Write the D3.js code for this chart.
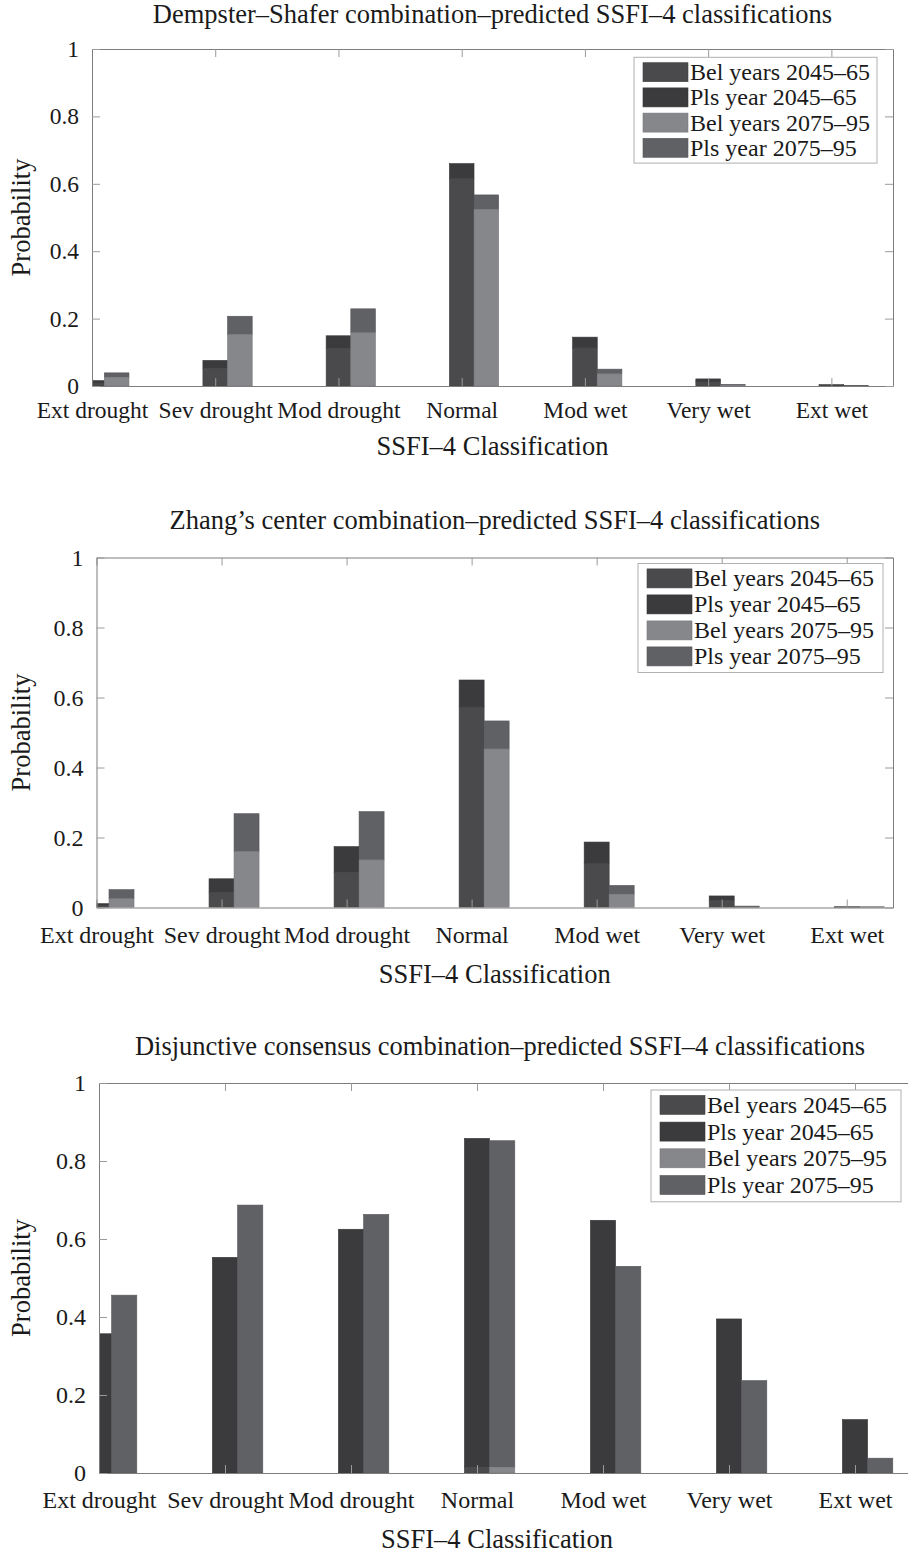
<!DOCTYPE html>
<html>
<head>
<meta charset="utf-8">
<script src="https://cdn.jsdelivr.net/npm/d3@7"></script>
<style>
  html, body { margin: 0; padding: 0; background: #fff; }
  svg { display: block; }
  text { font-family: "Liberation Serif", "Times New Roman", serif; fill: #1a1a1a; }
</style>
</head>
<body>
<svg id="fig" width="908" height="1558"></svg>
<script>
// Classification categories along the x axis
const categories = ["Ext drought", "Sev drought", "Mod drought", "Normal", "Mod wet", "Very wet", "Ext wet"];
const yTicks = [0, 0.2, 0.4, 0.6, 0.8, 1];
const seriesNames = ["Bel years 2045\u201365", "Pls year 2045\u201365", "Bel years 2075\u201395", "Pls year 2075\u201395"];
const seriesColors = ["#4a4a4d", "#3b3b3e", "#86878b", "#606165"];

// Dempster–Shafer combination
const dsBel2045 = [0.009, 0.052, 0.112, 0.615, 0.113, 0.012, 0.002];
const dsPls2045 = [0.016, 0.076, 0.149, 0.660, 0.145, 0.021, 0.004];
const dsBel2075 = [0.026, 0.153, 0.158, 0.524, 0.036, 0.002, 0.000];
const dsPls2075 = [0.039, 0.207, 0.229, 0.567, 0.050, 0.005, 0.001];

// Zhang's center combination
const zcBel2045 = [0.005, 0.043, 0.100, 0.573, 0.125, 0.020, 0.001];
const zcPls2045 = [0.011, 0.082, 0.174, 0.650, 0.187, 0.033, 0.002];
const zcBel2075 = [0.025, 0.160, 0.136, 0.453, 0.038, 0.001, 0.000];
const zcPls2075 = [0.051, 0.268, 0.274, 0.533, 0.063, 0.004, 0.002];

// Disjunctive consensus combination
const dcBel2045 = [0.000, 0.000, 0.000, 0.015, 0.000, 0.000, 0.000];
const dcPls2045 = [0.357, 0.553, 0.625, 0.858, 0.648, 0.395, 0.137];
const dcBel2075 = [0.000, 0.000, 0.000, 0.015, 0.000, 0.000, 0.000];
const dcPls2075 = [0.456, 0.687, 0.663, 0.852, 0.530, 0.237, 0.038];

const panels = [
  { title: "Dempster\u2013Shafer combination\u2013predicted SSFI\u20134 classifications",
    bel45: dsBel2045, pls45: dsPls2045, bel75: dsBel2075, pls75: dsPls2075,
    left: 92, right: 893, top: 49, bottom: 386, xMax: 7.5, titleY: 23,
    tickFont: 23.5, tickPad: 15, xlabelGap: 69,
    legend: { left: 634, top: 57.3, width: 243, pitch: 25.2 } },
  { title: "Zhang\u2019s center combination\u2013predicted SSFI\u20134 classifications",
    bel45: zcBel2045, pls45: zcPls2045, bel75: zcBel2075, pls75: zcPls2075,
    left: 96.5, right: 893, top: 557.5, bottom: 907.5, xMax: 7.37, titleY: 529,
    tickFont: 24, tickPad: 18, xlabelGap: 75,
    legend: { left: 638, top: 563.5, width: 245, pitch: 26 } },
  { title: "Disjunctive consensus combination\u2013predicted SSFI\u20134 classifications",
    bel45: dcBel2045, pls45: dcPls2045, bel75: dcBel2075, pls75: dcPls2075,
    left: 99, right: 918, top: 1083, bottom: 1473, xMax: 7.5, titleY: 1055,
    tickFont: 24, tickPad: 18, xlabelGap: 75,
    legend: { left: 651, top: 1090, width: 250, pitch: 26.7 } }
];

const svg = d3.select("#fig");
const barW = 0.2;          // bar width in category units
const offset75 = 0.2;      // 2075–95 bars sit just right of the 2045–65 bars
const labelFont = 26.5, titleFont = 26.5, legendFont = 24;

panels.forEach((p, pi) => {
  const x = d3.scaleLinear().domain([1, p.xMax]).range([p.left, p.right]);
  const y = d3.scaleLinear().domain([0, 1]).range([p.bottom, p.top]);
  const g = svg.append("g");
  const midX = Math.min((p.left + p.right) / 2, 500);

  const clipId = "clip" + pi;
  g.append("clipPath").attr("id", clipId)
    .append("rect").attr("x", p.left).attr("y", p.top)
    .attr("width", p.right - p.left).attr("height", p.bottom - p.top);

  // Stacked Bel / (Pls − Bel) bars for both periods
  const bars = g.append("g").attr("clip-path", `url(#${clipId})`);
  const groups = [
    { bel: p.bel45, pls: p.pls45, dx: 0, cBel: seriesColors[0], cPls: seriesColors[1] },
    { bel: p.bel75, pls: p.pls75, dx: offset75, cBel: seriesColors[2], cPls: seriesColors[3] }
  ];
  groups.forEach(gr => {
    categories.forEach((c, i) => {
      const xc = i + 1 + gr.dx;
      const x0 = x(xc - barW / 2), x1 = x(xc + barW / 2);
      // Pls segment stacked above Bel
      bars.append("rect")
        .attr("x", x0).attr("width", x1 - x0)
        .attr("y", y(gr.pls[i])).attr("height", y(gr.bel[i]) - y(gr.pls[i]))
        .attr("fill", gr.cPls).attr("stroke", d3.color(gr.cPls).darker(0.3)).attr("stroke-width", 0.6);
      bars.append("rect")
        .attr("x", x0).attr("width", x1 - x0)
        .attr("y", y(gr.bel[i])).attr("height", y(0) - y(gr.bel[i]))
        .attr("fill", gr.cBel).attr("stroke", d3.color(gr.cBel).darker(0.3)).attr("stroke-width", 0.6);
    });
  });

  // Axes box with inward ticks
  const tickLen = 8;
  const xTickVals = categories.map((c, i) => i + 1);
  const axisColor = "#7d7d7d";

  const bottomAxis = d3.axisBottom(x).tickValues(xTickVals)
    .tickFormat((d, i) => categories[i]).tickSizeInner(-tickLen).tickSizeOuter(0).tickPadding(p.tickPad);
  const gb = g.append("g").attr("transform", `translate(0,${p.bottom})`).call(bottomAxis);
  const topAxis = d3.axisTop(x).tickValues(xTickVals).tickFormat("").tickSizeInner(-tickLen).tickSizeOuter(0);
  const gt = g.append("g").attr("transform", `translate(0,${p.top})`).call(topAxis);
  const leftAxis = d3.axisLeft(y).tickValues(yTicks).tickFormat(d3.format("~g"))
    .tickSizeInner(-tickLen).tickSizeOuter(0).tickPadding(13);
  const gl = g.append("g").attr("transform", `translate(${p.left},0)`).call(leftAxis);
  const rightAxis = d3.axisRight(y).tickValues(yTicks).tickFormat("").tickSizeInner(-tickLen).tickSizeOuter(0);
  const gr2 = g.append("g").attr("transform", `translate(${p.right},0)`).call(rightAxis);

  [gb, gt, gl, gr2].forEach(a => {
    a.select(".domain").attr("stroke", axisColor);
    a.selectAll(".tick line").attr("stroke", "#9a9a9a");
    a.selectAll("text").attr("font-size", p.tickFont).attr("fill", "#1a1a1a")
      .style("font-family", "'Liberation Serif', serif");
  });
  gb.selectAll(".tick text").attr("dy", "0.71em");

  // Titles and axis labels
  g.append("text").attr("x", midX).attr("y", p.titleY)
    .attr("text-anchor", "middle").attr("font-size", titleFont).text(p.title);
  g.append("text").attr("x", Math.min(midX, 497)).attr("y", p.bottom + p.xlabelGap)
    .attr("text-anchor", "middle").attr("font-size", labelFont).text("SSFI\u20134 Classification");
  g.append("text")
    .attr("transform", `translate(30,${(p.top + p.bottom) / 2}) rotate(-90)`)
    .attr("text-anchor", "middle").attr("font-size", labelFont).text("Probability");

  // Legend
  const L = p.legend;
  const swH = 19, swW = 45;
  const lgH = L.pitch * 4 + 5;
  const lg = g.append("g");
  lg.append("rect").attr("x", L.left).attr("y", L.top)
    .attr("width", L.width).attr("height", lgH)
    .attr("fill", "#fff").attr("stroke", "#b0b0b0").attr("stroke-width", 1);
  seriesNames.forEach((s, i) => {
    const ry = L.top + 5.4 + i * L.pitch;
    lg.append("rect").attr("x", L.left + 9).attr("y", ry).attr("width", swW).attr("height", swH)
      .attr("fill", seriesColors[i]).attr("stroke", d3.color(seriesColors[i]).darker(0.3)).attr("stroke-width", 0.6);
    lg.append("text").attr("x", L.left + 56).attr("y", ry + 17.5)
      .attr("font-size", legendFont).text(s);
  });
});
</script>
</body>
</html>
